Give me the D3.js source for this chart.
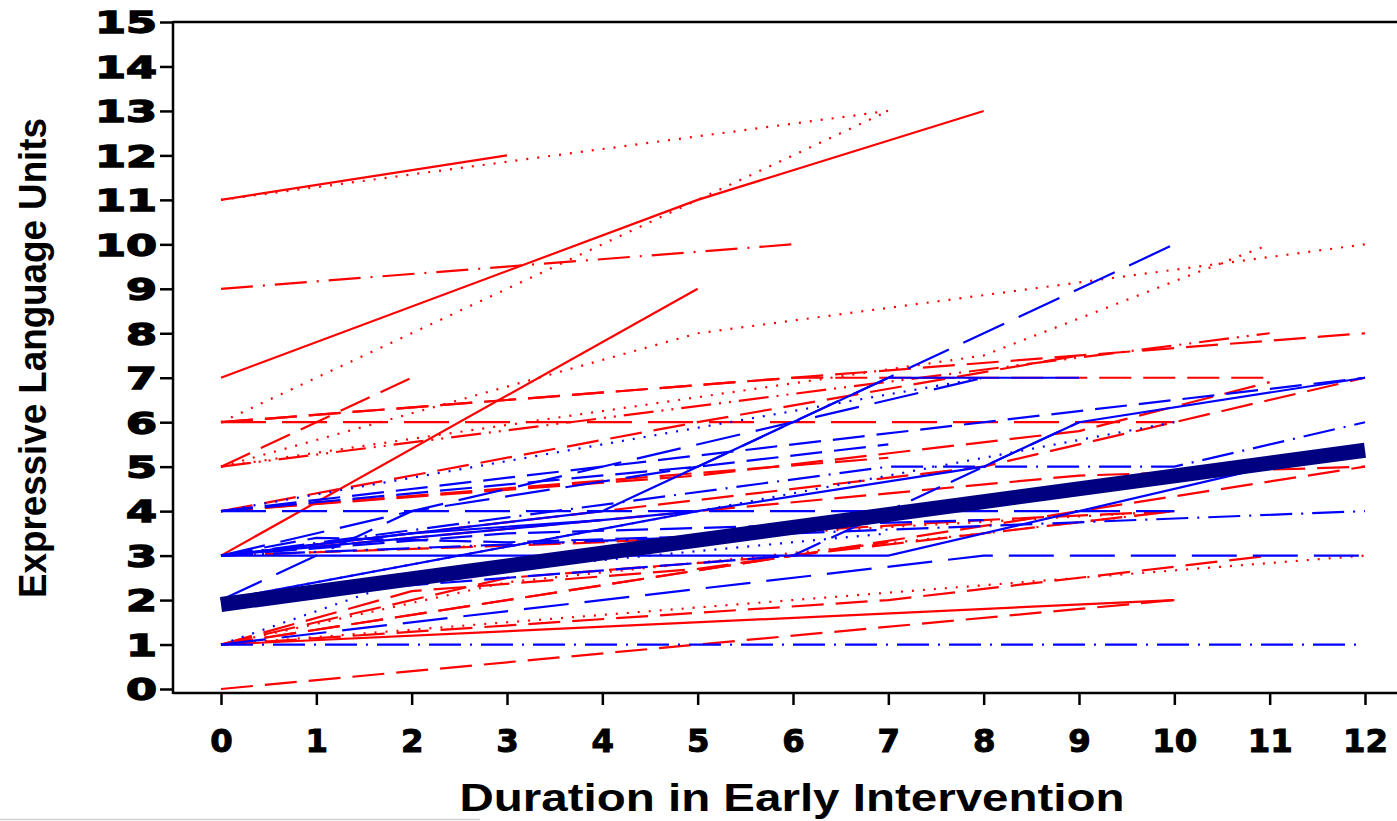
<!DOCTYPE html>
<html>
<head>
<meta charset="utf-8">
<script src="https://cdn.jsdelivr.net/npm/d3@7.9.0/dist/d3.min.js"></script>
<style>
  body { margin: 0; background: #fff; }
  svg { display: block; }
</style>
</head>
<body>
<svg id="chart" width="1397" height="821"></svg>
<script>
// individual trajectories: [duration, units] points, grouped by colour and line style
const redSolid = [
    [[0, 11], [3, 12]],
    [[0, 7], [5, 11], [8, 13]],
    [[0, 3], [5, 9]],
    [[0, 1], [10, 2]],
];
const redDotted = [
    [[0, 11], [7, 13]],
    [[0, 6], [4, 10], [7, 13]],
    [[0, 5], [5, 8], [12, 10]],
    [[0, 5], [8, 7.5], [11, 10]],
    [[0, 1], [12, 3]],
    [[0, 1], [3, 2.4], [8, 3.5], [10, 4]],
    [[0, 3], [5, 3.4], [10, 4]],
];
const redDashed = [
    [[0, 5], [2, 7]],
    [[0, 6], [12, 8]],
    [[0, 6], [6, 7], [11, 7]],
    [[0, 4], [5, 6], [9, 7.5]],
    [[0, 4], [5, 4.8], [9, 5.8], [11, 6.9]],
    [[0, 3], [8, 5], [10, 6], [12, 7]],
    [[0, 1], [12, 5]],
    [[0, 0], [10, 2]],
    [[0, 1], [7, 2], [11, 3]],
    [[0, 1], [6, 3], [7, 3.3]],
    [[0, 1], [3, 2.5], [6, 3], [10, 4]],
    [[0, 1], [2, 2.2], [5, 2.7], [6, 3]],
    [[0, 3], [4, 3.3], [8, 3.8], [10, 4]],
    [[0, 3], [5, 4], [9, 4.8], [12, 5]],
    [[0, 4], [7, 5.2]],
];
const redLongDash = [
    [[0, 6], [10, 6]],
];
const redDashDot = [
    [[0, 9], [6, 10]],
];
const redDashDotDot = [
    [[0, 5], [11, 8]],
];
const blueSolid = [
    [[0, 3], [4, 4], [7, 7], [9, 7]],
    [[0, 3], [7, 3], [9, 4], [11, 5]],
    [[0, 2], [5, 4]],
    [[0, 3], [5, 4], [8, 5], [9, 6], [12, 7]],
    [[0, 3], [2, 3.5], [4, 3.8]],
];
const blueLongDash = [
    [[0, 2], [2, 4], [5, 5], [7, 7], [10, 10]],
    [[0, 1], [8, 3], [12, 3]],
    [[0, 4], [10, 4]],
    [[0, 3], [8, 7]],
];
const blueDashed = [
    [[0, 4], [12, 7]],
    [[0, 2], [6, 3], [9, 6]],
    [[0, 4], [5, 5], [7, 5.5]],
    [[0, 3], [3, 3.5], [8, 3.8]],
    [[0, 3], [1, 3.4], [3, 3.3], [6, 3.5]],
];
const blueDashDot = [
    [[0, 3], [7, 5], [10, 5], [12, 6]],
    [[0, 3], [12, 4]],
    [[0, 1], [12, 1]],
];
const blueDotted = [
    [[0, 2], [10, 6]],
    [[0, 1], [2, 2.5], [7, 3.5]],
    [[0, 4], [8, 7]],
];
const meanTrend = [[0, 1.9], [12, 5.37]];

const xTicks = d3.range(0, 13);
const yTicks = d3.range(0, 16);

const svg = d3.select('#chart');

const x = d3.scaleLinear().domain([0, 12]).range([221, 1365]);
const y = d3.scaleLinear().domain([0, 15]).range([689, 22]);

const frame = { left: 173, top: 22, bottom: 693, right: 1400 };

const line = d3.line()
    .x((d) => x(d[0]))
    .y((d) => y(d[1]));

// draw one group of trajectories
function drawGroup(rows, color, dash) {
    svg.append('g')
        .selectAll('path')
        .data(rows)
        .join('path')
        .attr('d', line)
        .attr('fill', 'none')
        .attr('stroke', color)
        .attr('stroke-width', 2.2)
        .attr('stroke-dasharray', dash);
}

drawGroup(redSolid, '#ff0000', null);
drawGroup(redDotted, '#ff0000', '2,9');
drawGroup(redDashed, '#ff0000', '32,12');
drawGroup(redLongDash, '#ff0000', '45,16');
drawGroup(redDashDot, '#ff0000', '32,10,2,10');
drawGroup(redDashDotDot, '#ff0000', '30,8,2,8,2,8');
drawGroup(blueSolid, '#0000ff', null);
drawGroup(blueLongDash, '#0000ff', '45,16');
drawGroup(blueDashed, '#0000ff', '32,12');
drawGroup(blueDashDot, '#0000ff', '32,9,2,9');
drawGroup(blueDotted, '#0000ff', '2,9');

// overall mean trajectory
svg.append('path')
    .datum(meanTrend)
    .attr('d', line)
    .attr('fill', 'none')
    .attr('stroke', '#000080')
    .attr('stroke-width', 15);

// frame lines
const frameG = svg.append('g').attr('stroke', '#000').attr('stroke-width', 2.5);
frameG.append('line')
    .attr('x1', frame.left).attr('x2', frame.left)
    .attr('y1', frame.top - 1).attr('y2', frame.bottom + 1);
frameG.append('line')
    .attr('x1', frame.left).attr('x2', frame.right)
    .attr('y1', frame.top).attr('y2', frame.top);
frameG.append('line')
    .attr('x1', frame.left).attr('x2', frame.right)
    .attr('y1', frame.bottom).attr('y2', frame.bottom);

// y axis
const yAxis = d3.axisLeft(y).tickValues(yTicks).tickSize(13).tickPadding(3);
const yG = svg.append('g')
    .attr('transform', `translate(${frame.left}, 0)`)
    .call(yAxis);
yG.select('.domain').remove();
yG.selectAll('.tick line').attr('stroke', '#000').attr('stroke-width', 2.5);
yG.selectAll('.tick text')
    .attr('fill', '#000')
    .attr('stroke', '#000')
    .attr('stroke-width', 1.4)
    .style('font-family', '"DejaVu Sans", sans-serif')
    .style('font-weight', 'bold')
    .style('font-size', '30px')
    .attr('dy', '0.36em')
    .attr('lengthAdjust', 'spacingAndGlyphs')
    .attr('textLength', (d) => String(d).length * 31);

// x axis
const xAxis = d3.axisBottom(x).tickValues(xTicks).tickSize(12).tickPadding(24);
const xG = svg.append('g')
    .attr('transform', `translate(0, ${frame.bottom})`)
    .call(xAxis);
xG.select('.domain').remove();
xG.selectAll('.tick line').attr('stroke', '#000').attr('stroke-width', 2.5);
xG.selectAll('.tick text')
    .attr('fill', '#000')
    .attr('stroke', '#000')
    .attr('stroke-width', 1)
    .style('font-family', '"DejaVu Sans", sans-serif')
    .style('font-weight', 'bold')
    .style('font-size', '32px')
    .attr('lengthAdjust', 'spacingAndGlyphs')
    .attr('textLength', (d) => String(d).length * 22.5);

// axis titles
svg.append('text')
    .attr('transform', 'translate(46, 358) rotate(-90)')
    .attr('text-anchor', 'middle')
    .attr('textLength', 480)
    .attr('lengthAdjust', 'spacingAndGlyphs')
    .style('font-family', '"Liberation Sans", Arial, sans-serif')
    .style('font-weight', 'bold')
    .style('font-size', '38px')
    .text('Expressive Language Units');

svg.append('text')
    .attr('x', 792)
    .attr('y', 811)
    .attr('text-anchor', 'middle')
    .attr('textLength', 665)
    .attr('lengthAdjust', 'spacingAndGlyphs')
    .style('font-family', '"Liberation Sans", Arial, sans-serif')
    .style('font-weight', 'bold')
    .style('font-size', '38px')
    .text('Duration in Early Intervention');

// faint rule at the very bottom edge
svg.append('line')
    .attr('x1', 0).attr('x2', 480)
    .attr('y1', 819.5).attr('y2', 819.5)
    .attr('stroke', '#d0d0d0')
    .attr('stroke-width', 1.5);
</script>
</body>
</html>
